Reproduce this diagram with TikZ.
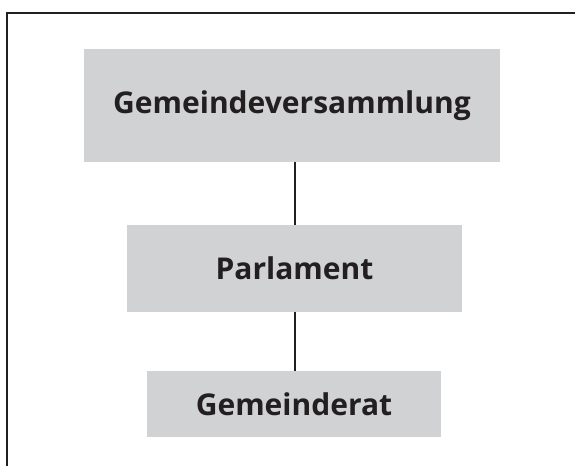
\documentclass[tikz,border=0pt]{standalone}
\usepackage{fontspec}
\setmainfont{Open Sans}
\usepackage{tikz}
\definecolor{boxGrey}{RGB}{209, 210, 212}
\definecolor{lineDark}{RGB}{35, 31, 32}

\begin{document}
\begin{tikzpicture}[
  x=1pt, y=1pt,
  organ/.style={fill=boxGrey, text=lineDark, inner sep=0pt,
    font=\fontsize{30}{36}\selectfont\bfseries},
  link/.style={draw=lineDark, line width=2pt}
]
\useasboundingbox (0,0) rectangle (575,-466);
% frame
\draw[lineDark, line width=1.5pt] (7,-466) -- (7,-13) -- (575,-13);
% bodies
\node[organ, minimum width=416pt, minimum height=113pt] (versammlung) at (292,-105.5) {Gemeindeversammlung};
\node[organ, minimum width=335pt, minimum height=87pt] (parlament) at (294.5,-268.5) {Parlament};
\node[organ, minimum width=294pt, minimum height=66pt] (rat) at (294,-404) {Gemeinderat};
% connections
\draw[link] (versammlung.south -| parlament.north) -- (parlament.north);
\draw[link] (parlament.south) -- (rat.north -| parlament.south);
\end{tikzpicture}
\end{document}
